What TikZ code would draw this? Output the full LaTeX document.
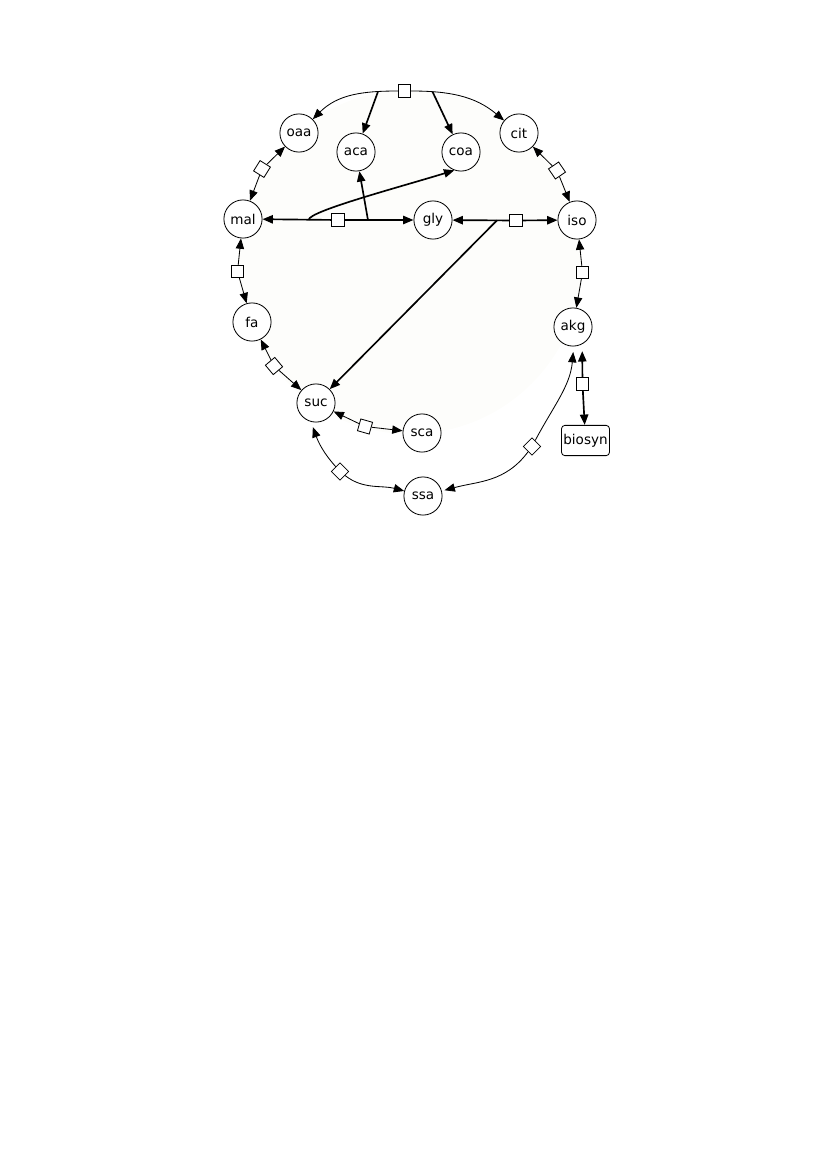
\documentclass[tikz,border=0pt]{standalone}
\usepackage{fontspec}
\setmainfont{DejaVu Sans}
\usepackage{tikz}
\usepackage{xcolor}
\usetikzlibrary{arrows.meta}
\definecolor{bgfill}{RGB}{253,253,251}
\tikzset{
  species/.style={
    draw, circle, minimum size=0.97cm, inner sep=0pt,
    line width=0.6pt, fill=white,
    font=\fontsize{9.8}{11}\selectfont
  },
  reaction/.style={
    draw, rectangle, minimum size=0.31cm, inner sep=0pt,
    line width=0.6pt, fill=white
  },
  sink/.style={
    draw, rectangle, rounded corners=2.5pt,
    minimum width=1.22cm, minimum height=0.77cm, inner sep=1pt,
    line width=0.6pt, fill=white,
    font=\fontsize{9.8}{11}\selectfont
  },
  flux/.style={-{Triangle[length=7.5pt,width=6pt]}, line width=0.6pt},
  mainflux/.style={flux, line width=1.2pt},
}

\begin{document}
\begin{tikzpicture}[x=0.0254cm, y=-0.0254cm]
  \useasboundingbox (0,0) rectangle (827,1169);
  \fill[bgfill] (410,262) circle[radius=172];

  \node[species] (oaa) at (299,133) {oaa};
  \node[species] (aca) at (356,152) {aca};
  \node[species] (coa) at (461,152) {coa};
  \node[species] (cit) at (519,133) {cit};
  \node[species] (mal) at (243,219) {mal};
  \node[species] (gly) at (433,220) {gly};
  \node[species] (iso) at (577,220) {iso};
  \node[species] (fa)  at (252,322) {fa};
  \node[species] (akg) at (573,327) {akg};
  \node[species] (suc) at (316,403) {suc};
  \node[species] (sca) at (422,433) {sca};
  \node[species] (ssa) at (423,496) {ssa};
  \node[sink] (biosyn) at (585.5,440.5) {biosyn};

  \node[reaction] (r1) at (404.5,91) {};
  \node[reaction, rotate=58] (r2) at (262,169) {};
  \node[reaction] (r3) at (338,220) {};
  \node[reaction] (r4) at (516,220.5) {};
  \node[reaction, rotate=-56] (r5) at (557,170.5) {};
  \node[reaction] (r6) at (237.5,271.5) {};
  \node[reaction] (r7) at (582.5,272.5) {};
  \node[reaction, rotate=-50] (r8) at (274,366) {};
  \node[reaction] (r9) at (582.5,384) {};
  \node[reaction, rotate=-16] (r10) at (365,426.5) {};
  \node[reaction, rotate=45] (r11) at (340,471.5) {};
  \node[reaction, rotate=45] (r12) at (532,446.5) {};

  \draw[flux] (r1) to[out=180,in=45] coordinate[pos=0.2] (j1) (oaa);
  \draw[flux] (r1) to[out=0,in=140] coordinate[pos=0.2] (j2) (cit);
  \draw[mainflux] (j1) -- (aca);
  \draw[mainflux] (j2) -- (coa);

  \draw[mainflux] (r3) -- coordinate[pos=0.33] (j3) (mal);
  \draw[mainflux] (r3) -- coordinate[pos=0.34] (j4) (gly);
  \draw[mainflux] (j3) to[out=85,in=197,out distance=0.22cm,in distance=1.5cm] (coa.250);
  \draw[mainflux] (j4) -- (aca);

  \draw[mainflux] (r4) -- coordinate[pos=0.22] (j5) (gly);
  \draw[mainflux] (r4) -- (iso);
  \draw[mainflux] (j5) -- (suc);

  \draw[flux] (r2) -- (oaa);
  \draw[flux] (r2) -- (mal);
  \draw[flux] (r5) -- (cit);
  \draw[flux] (r5) -- (iso);
  \draw[flux] (r6) -- (mal);
  \draw[flux] (r6) -- (fa);
  \draw[flux] (r7) -- (iso);
  \draw[flux] (r7) -- (akg);
  \draw[flux] (r8) -- (fa);
  \draw[flux] (r8) -- (suc);
  \draw[flux] (r10) -- (suc);
  \draw[flux] (r10) -- (sca);

  \draw[flux, shorten >=4pt] (r11) to[out=120,in=-70] (suc.-105);
  \draw[flux] (r11) to[out=-50,in=165] (ssa);
  \draw[flux, shorten >=4pt] (r12) to[out=55,in=-95] (akg.-88);
  \draw[flux, shorten >=2pt] (r12) to[out=-135,in=15] (ssa);

  \draw[mainflux, shorten >=5pt] (r9) -- (akg.-62);
  \draw[mainflux] (r9) -- (biosyn);
\end{tikzpicture}
\end{document}
